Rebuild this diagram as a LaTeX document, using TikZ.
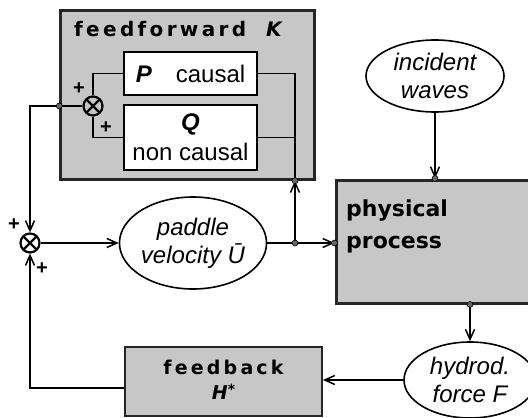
\documentclass[tikz,border=0pt]{standalone}
\usepackage{fontspec}
\setmainfont{Liberation Sans}
\newfontfamily\chicago{DejaVu Sans}
\usetikzlibrary{arrows.meta,shapes.geometric}
\tikzset{
  shadebox/.style={draw=black!85, line width=2.4pt, fill=black!22, inner sep=0pt},
  whitebox/.style={draw=black, line width=1.8pt, fill=white, inner sep=0pt},
  oval/.style={ellipse, draw=black, line width=1.6pt, fill=white, inner sep=0pt, align=center, font=\itshape\fontsize{24}{28}\selectfont},
  summer/.style={circle, draw=black, line width=2.2pt, minimum size=19pt, inner sep=0pt, path picture={
     \draw[line width=2.2pt] (path picture bounding box.north west) -- (path picture bounding box.south east)
       (path picture bounding box.north east) -- (path picture bounding box.south west);}},
  wire/.style={line width=1.7pt},
  arr/.style={wire, -{Straight Barb[length=10pt,width=9pt,line width=1.5pt]}},
  junct/.style={circle, fill=black!60, draw=black, line width=0.6pt, minimum size=6pt, inner sep=0pt},
  sign/.style={font=\bfseries\fontsize{20}{20}\selectfont, inner sep=0pt},
  title/.style={font=\chicago\bfseries\fontsize{20}{20}\selectfont, inner sep=0pt, align=left}
}
\begin{document}
\begin{tikzpicture}[x=1pt,y=-1pt]
\useasboundingbox (0,0) rectangle (528,418);
\fill[white] (0,0) rectangle (528,418);

% feedforward block
\node[shadebox, minimum width=254pt, minimum height=169pt] (ff) at (187.5,95) {};
\node[title, anchor=base west] (fft) at (74,36) {f\,e\,e\,d\,f\,o\,r\,w\,a\,r\,d\quad\textit{K}};
\node[whitebox, minimum width=133pt, minimum height=43pt, font=\fontsize{24}{26}\selectfont] (P) at (190.5,73.5) {\textbf{\textit{P}}\quad causal};
\node[whitebox, minimum width=133pt, minimum height=65pt, align=center, font=\fontsize{24}{30}\selectfont] (Q) at (190.5,137.5) {\textbf{\textit{Q}}\\non causal};
\node[summer] (s1) at (93,106) {};
\node[sign] (s1a) at (79,89) {+};
\node[sign] (s1b) at (106,128) {+};

\draw[wire] (P.west) -| (s1.north);
\draw[wire] (Q.west) -| (s1.south);
\coordinate (jr) at (295,243);
\draw[wire] (P.east) -| (jr |- ff.south);
\draw[wire] (Q.east) -- (Q.east -| jr);

% main summer
\node[summer] (s2) at (30,243) {};
\node[sign] (s2a) at (14,225) {+};
\node[sign] (s2b) at (42,269) {+};

\coordinate (ffl) at (ff.west |- s1.west);
\draw[wire] (s1.west) -- (ffl);
\draw[arr] (ffl) -| (s2.north);

% paddle velocity
\node[oval, minimum width=140pt, minimum height=92pt] (pad) at (193,243) {paddle\\velocity Ū};
\draw[arr] (s2.east) -- (pad.west);
\draw[wire] (pad.east) -- (jr);

% physical process
\node[shadebox, line width=3pt, minimum width=204pt, minimum height=123pt] (phys) at (438,241.5) {};
\node[title, anchor=base west, font=\chicago\bfseries\fontsize{22}{22}\selectfont] (physt1) at (346,216) {physical};
\node[title, anchor=base west, font=\chicago\bfseries\fontsize{22}{22}\selectfont] (physt2) at (346,248) {process};
\draw[arr] (jr) -- (jr |- ff.south);
\draw[arr] (jr) -- (phys.west |- jr);

% incident waves
\node[oval, minimum width=138pt, minimum height=72pt] (inc) at (435,76) {incident\\waves};
\draw[arr] (inc.south) -- (inc.south |- phys.north);

% hydrodynamic force
\node[oval, minimum width=132pt, minimum height=76pt] (hyd) at (470,380) {hydrod.\\force F};
\draw[arr] (hyd.north |- phys.south) -- (hyd.north);

% feedback
\node[shadebox, line width=2pt, minimum width=197pt, minimum height=69pt] (fb) at (223.5,381.5) {};
\node[title, align=center, font=\chicago\bfseries\fontsize{19}{25}\selectfont] (fbt) at (223.5,380) {f\,e\,e\,d\,b\,a\,c\,k\\\textit{H}\raisebox{0.5ex}{\fontsize{14}{14}\selectfont *}};
\draw[arr] (hyd.west) -- (fb.east |- hyd.west);
\draw[arr] (fb.west |- 0,388) -| (s2.south);

% junction dots
\node[junct] (d1) at (ffl) {};
\node[junct] (d2) at (jr |- ff.south) {};
\node[junct] (d3) at (jr) {};
\node[junct] (d4) at (phys.west |- jr) {};
\node[junct] (d5) at (inc.south |- phys.north) {};
\node[junct] (d6) at (hyd.north |- phys.south) {};
\end{tikzpicture}
\end{document}
